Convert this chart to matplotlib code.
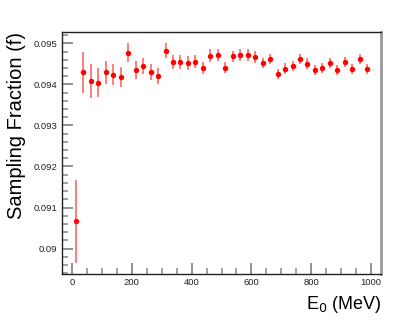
import numpy as np
import matplotlib
matplotlib.use("Agg")
import matplotlib.pyplot as plt
from matplotlib.ticker import MultipleLocator

plt.rcParams['font.family'] = ['Liberation Sans', 'DejaVu Sans']

# beam energy bin centres (MeV)
energy = [12.5, 37.5, 62.5, 87.5, 112.5, 137.5, 162.5, 187.5, 212.5, 237.5,
          262.5, 287.5, 312.5, 337.5, 362.5, 387.5, 412.5, 437.5, 462.5, 487.5,
          512.5, 537.5, 562.5, 587.5, 612.5, 637.5, 662.5, 687.5, 712.5, 737.5,
          762.5, 787.5, 812.5, 837.5, 862.5, 887.5, 912.5, 937.5, 962.5, 987.5]

# sampling fraction
frac = [0.09066, 0.09429, 0.09408, 0.09404, 0.09430, 0.09424, 0.09418, 0.09477, 0.09435, 0.09445,
        0.09430, 0.09420, 0.09482, 0.09454, 0.09454, 0.09452, 0.09455, 0.09440, 0.09470, 0.09471,
        0.09441, 0.09468, 0.09471, 0.09472, 0.09467, 0.09452, 0.09462, 0.09425, 0.09438, 0.09445,
        0.09462, 0.09450, 0.09434, 0.09439, 0.09453, 0.09435, 0.09454, 0.09437, 0.09461, 0.09438]

# errors
frac_err = [0.00102, 0.00051, 0.00041, 0.00035, 0.00028, 0.00026, 0.00024, 0.00023, 0.00021, 0.00019,
            0.00019, 0.00019, 0.00018, 0.00017, 0.00017, 0.00016, 0.00016, 0.00015, 0.00015, 0.00015,
            0.00014, 0.00014, 0.00014, 0.00014, 0.00014, 0.00013, 0.00013, 0.00012, 0.00013, 0.00013,
            0.00013, 0.00013, 0.00012, 0.00012, 0.00012, 0.00012, 0.00012, 0.00012, 0.00012, 0.00012]

fig = plt.figure(figsize=(4.15, 3.23), dpi=100)
ax = fig.add_axes([0.1494, 0.1517, 0.7696, 0.7493])

ax.errorbar(energy, frac, yerr=frac_err, fmt='o', color='red', ecolor=(1, 0, 0, 0.6),
            elinewidth=1.2, capsize=1.5, capthick=1.0, markersize=3.9, markeredgewidth=0)

ax.set_xlim(-34, 1035)
ax.set_ylim(0.08938, 0.095276)

ax.xaxis.set_major_locator(MultipleLocator(200))
ax.xaxis.set_minor_locator(MultipleLocator(50))
ax.yaxis.set_major_locator(MultipleLocator(0.001))
ax.yaxis.set_minor_locator(MultipleLocator(0.0002))
ax.yaxis.set_major_formatter(plt.FuncFormatter(lambda v, p: ('%.3f' % v).rstrip('0')))

ax.tick_params(which='both', direction='in', color='#888888', labelcolor='#222222',
               labelsize=6.8, top=False, right=False)
ax.tick_params(which='major', length=8, width=1.3)
ax.tick_params(which='minor', length=4, width=1.1)
ax.tick_params(axis='x', pad=3)

for s in ['left', 'bottom', 'top']:
    ax.spines[s].set_color('#222222')
    ax.spines[s].set_linewidth(1.0)
ax.spines['right'].set_color('#999999')
ax.spines['right'].set_linewidth(2.0)

ax.set_ylabel('Sampling Fraction (f)', fontsize=14.5, loc='top', labelpad=5)
ax.set_xlabel(r'E$_0$ (MeV)', fontsize=13, loc='right', labelpad=5)

fig.savefig('out.png', dpi=100)
